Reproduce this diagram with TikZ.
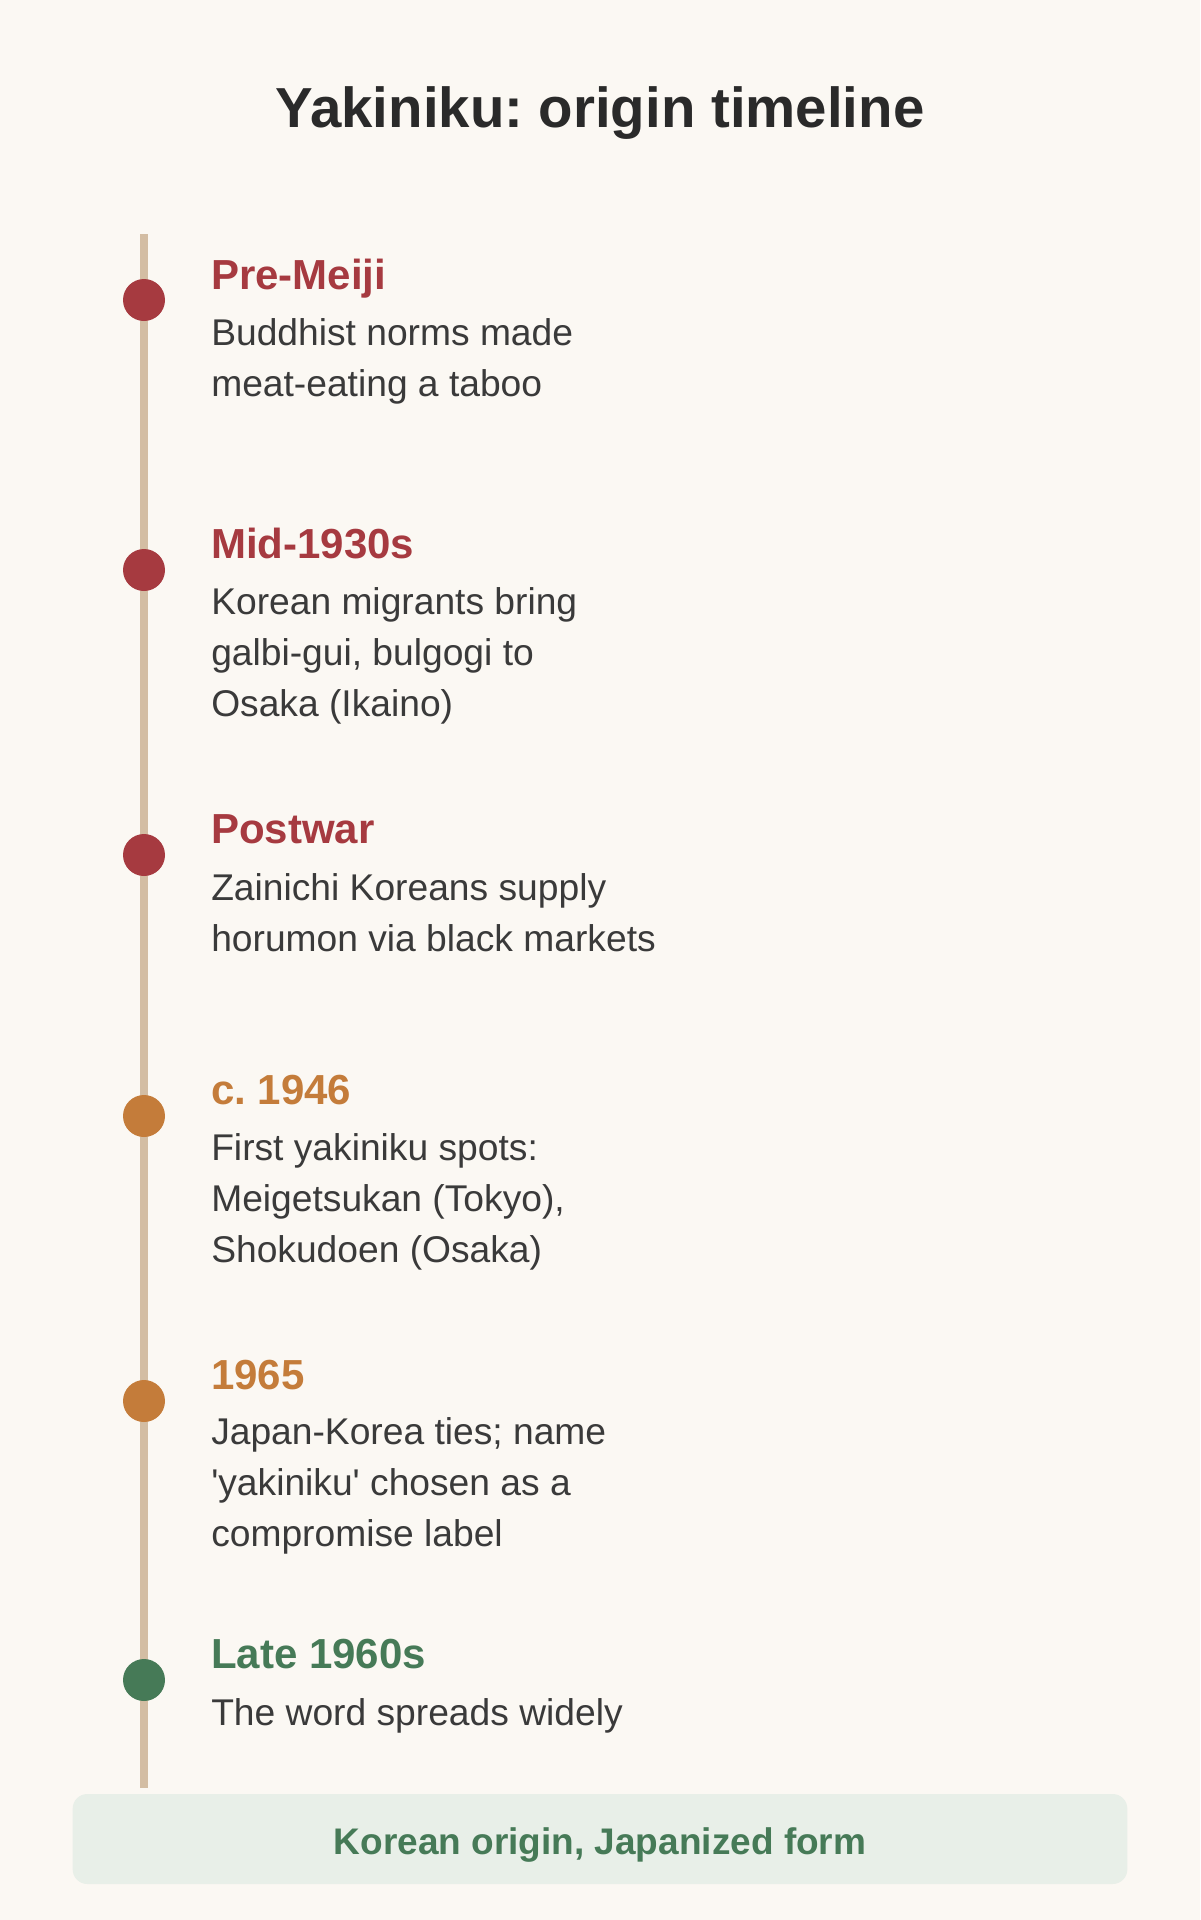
\documentclass[tikz,border=0pt]{standalone}
\usepackage{fontspec}
\setmainfont{Liberation Sans}
\usetikzlibrary{positioning}
\frenchspacing

\definecolor{bgcream}{HTML}{FBF8F3}
\definecolor{railtan}{HTML}{D3BDA3}
\definecolor{eraRed}{HTML}{A63A40}
\definecolor{eraOrange}{HTML}{C47C3A}
\definecolor{eraGreen}{HTML}{467A57}
\definecolor{bodygray}{HTML}{3A3A3A}
\definecolor{titlegray}{HTML}{2A2A2A}
\definecolor{notefill}{HTML}{E8EFE8}

\begin{document}
\begin{tikzpicture}[x=0.75pt,y=-0.75pt,
        dot/.style={circle,fill=#1,minimum size=31.5pt,inner sep=0pt},
        era/.style={anchor=base west,inner sep=0pt,text=#1,font=\fontsize{31.5}{36}\selectfont\bfseries},
        note/.style={anchor=base west,inner sep=0pt,align=left,text=bodygray,font=\fontsize{27.9}{37.9}\selectfont}]

        \fill[bgcream] (0,0) rectangle (1200,1920);

        \node[anchor=base,inner sep=0pt,text=titlegray,font=\fontsize{42.3}{48}\selectfont\bfseries] (title) at (600,127) {Yakiniku: origin timeline};

        % the rail
        \coordinate (railtop) at (144,234);
        \coordinate (railend) at (144,1788);
        \draw[railtan,line width=6pt] (railtop) -- (railend);

        % events (note nodes sit on the baseline of their last line)
        \node[dot=eraRed] (e1) at (144,300) {};
        \node[era=eraRed] (h1) at (211,289) {Pre-Meiji};
        \node[note] (t1) at (211,396) {Buddhist norms made\\meat-eating a taboo};

        \node[dot=eraRed] (e2) at (144,570) {};
        \node[era=eraRed] (h2) at (211,558) {Mid-1930s};
        \node[note] (t2) at (211,716) {Korean migrants bring\\galbi-gui, bulgogi to\\Osaka (Ikaino)};

        \node[dot=eraRed] (e3) at (144,855) {};
        \node[era=eraRed] (h3) at (211,843) {Postwar};
        \node[note] (t3) at (211,951) {Zainichi Koreans supply\\horumon via black markets};

        \node[dot=eraOrange] (e4) at (144,1116) {};
        \node[era=eraOrange] (h4) at (211,1104) {c. 1946};
        \node[note] (t4) at (211,1262) {First yakiniku spots:\\Meigetsukan (Tokyo),\\Shokudoen (Osaka)};

        \node[dot=eraOrange] (e5) at (144,1401) {};
        \node[era=eraOrange] (h5) at (211,1389) {1965};
        \node[note] (t5) at (211,1546) {Japan-Korea ties; name\\\textquotesingle yakiniku\textquotesingle{} chosen as a\\compromise label};

        \node[dot=eraGreen] (e6) at (144,1680) {};
        \node[era=eraGreen] (h6) at (211,1668) {Late 1960s};
        \node[note] (t6) at (211,1725) {The word spreads widely};

        % summary strip
        \node[fill=notefill,rounded corners=11pt,minimum width=791pt,minimum height=67.5pt,inner sep=0pt] (summary) at (600,1839) {};
        \node[anchor=base,inner sep=0pt,text=eraGreen,font=\fontsize{27.75}{32}\selectfont\bfseries] (summarytext) at (600,1854) {Korean origin, Japanized form};

    \end{tikzpicture}
\end{document}
